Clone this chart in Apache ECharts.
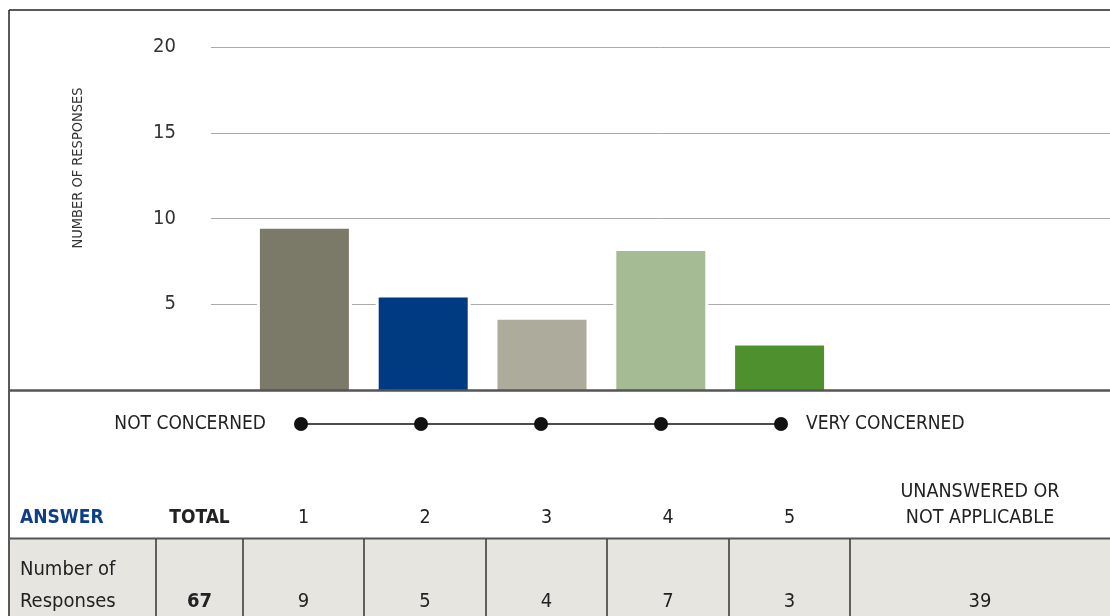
<!DOCTYPE html>
<html>
<head>
<meta charset="utf-8">
<script src="https://cdn.jsdelivr.net/npm/echarts@6/dist/echarts.min.js"></script>
<style>
  html, body { margin: 0; padding: 0; background: #fff; }
  #chart { width: 1110px; height: 616px; }
</style>
</head>
<body>
<div id="chart"></div>
<script>
// 数据
const categories = ['1', '2', '3', '4', '5'];
const barValues = [9.4, 5.4, 4.1, 8.1, 2.6];
const barColors = ['#7b7a68', '#003a80', '#adab9b', '#a4bb94', '#4e8f2e'];
const yMax = 20;
const yInterval = 5;
const yName = 'NUMBER OF RESPONSES';
const scaleLabels = ['NOT CONCERNED', 'VERY CONCERNED'];
const tableHeader = ['ANSWER', 'TOTAL', '1', '2', '3', '4', '5', 'UNANSWERED OR\nNOT APPLICABLE'];
const tableRowLabel = 'Number of\nResponses';
const tableValues = [67, 9, 5, 4, 7, 3, 39];

const FONT = '"Liberation Sans Narrow", "DejaVu Sans Condensed", Roboto, sans-serif';
// 表格列边界
const colEdges = [10, 156, 243, 364, 486, 607, 729, 850, 1110];

const chart = echarts.init(document.getElementById('chart'));

const graphics = [];
// 外框
graphics.push({ type: 'line', shape: { x1: 9, y1: 10, x2: 1110, y2: 10 }, style: { stroke: '#222', lineWidth: 1.5 }, z: 100 });
graphics.push({ type: 'line', shape: { x1: 9, y1: 10, x2: 9, y2: 616 }, style: { stroke: '#222', lineWidth: 1.5 }, z: 100 });
graphics.push({ type: 'line', shape: { x1: 9, y1: 390.5, x2: 1110, y2: 390.5 }, style: { stroke: '#555', lineWidth: 2.5 }, z: 100 });
// y轴名称
graphics.push({
  type: 'text', x: 78, y: 168, rotation: Math.PI / 2,
  style: { text: yName, font: '14.5px ' + FONT, fill: '#333', textAlign: 'center', textVerticalAlign: 'middle' }
});
// 表格背景
graphics.push({ type: 'rect', shape: { x: 10, y: 539, width: 1100, height: 77 }, style: { fill: '#e6e5e0' }, z: 1 });
graphics.push({ type: 'line', shape: { x1: 9, y1: 538.5, x2: 1110, y2: 538.5 }, style: { stroke: '#555', lineWidth: 2 }, z: 100 });
for (let i = 1; i < colEdges.length - 1; i++) {
  graphics.push({ type: 'line', shape: { x1: colEdges[i], y1: 539, x2: colEdges[i], y2: 616 }, style: { stroke: '#333', lineWidth: 1.5 }, z: 100 });
}
// 表头
tableHeader.forEach(function (t, i) {
  const first = i === 0;
  const cx = first ? 20 : (colEdges[i] + colEdges[i + 1]) / 2;
  graphics.push({
    type: 'text', x: cx, y: 531,
    style: {
      text: t, fill: first ? '#0e3f86' : '#222',
      font: (i < 2 ? 'bold 19px ' : '19.5px ') + FONT,
      textAlign: first ? 'left' : 'center', textVerticalAlign: 'bottom', lineHeight: 26
    }, z: 100
  });
});
// 表格内容
graphics.push({
  type: 'text', x: 20, y: 586,
  style: { text: tableRowLabel, fill: '#222', font: '20px ' + FONT, textAlign: 'left', textVerticalAlign: 'middle', lineHeight: 32 },
  z: 100
});
tableValues.forEach(function (v, i) {
  const cx = (colEdges[i + 1] + colEdges[i + 2]) / 2;
  graphics.push({
    type: 'text', x: cx, y: 602,
    style: { text: String(v), fill: '#222', font: (i === 0 ? 'bold 20px ' : '20px ') + FONT, textAlign: 'center', textVerticalAlign: 'middle' },
    z: 100
  });
});
// 刻度两端文字
graphics.push({ type: 'text', x: 266, y: 424, style: { text: scaleLabels[0], fill: '#222', font: '19px ' + FONT, textAlign: 'right', textVerticalAlign: 'middle' }, z: 100 });
graphics.push({ type: 'text', x: 806, y: 424, style: { text: scaleLabels[1], fill: '#222', font: '19px ' + FONT, textAlign: 'left', textVerticalAlign: 'middle' }, z: 100 });

const option = {
  animation: false,
  grid: [
    { left: 211, right: 0, top: 47, bottom: 226 },
    { left: 245, right: 271, top: 47, bottom: 226 },
    { left: 241, right: 269, top: 414, height: 20 },
    { left: 245, right: 271, top: 47, bottom: 226 }
  ],
  xAxis: [
    { gridIndex: 0, type: 'value', show: false },
    { gridIndex: 1, type: 'category', data: categories, show: false },
    { gridIndex: 2, type: 'category', data: categories, show: false },
    { gridIndex: 3, type: 'category', data: categories, show: false }
  ],
  yAxis: [
    {
      gridIndex: 0, type: 'value', min: 0, max: yMax, interval: yInterval,
      axisLine: { show: false }, axisTick: { show: false },
      axisLabel: { showMinLabel: false, margin: 35, fontSize: 20, fontFamily: FONT, color: '#333' },
      splitLine: { lineStyle: { color: '#aaa', width: 1 } }
    },
    { gridIndex: 1, type: 'value', min: 0, max: yMax, show: false, splitLine: { show: false } },
    { gridIndex: 2, type: 'value', min: 0, max: 1, show: false, splitLine: { show: false } },
    { gridIndex: 3, type: 'value', min: 0, max: yMax, show: false, splitLine: { show: false } }
  ],
  series: [
    {
      // 白色衬底，让网格线在柱子两侧断开
      type: 'bar', xAxisIndex: 3, yAxisIndex: 3,
      barWidth: 95,
      data: barValues,
      itemStyle: { color: '#fff' },
      silent: true,
      z: 3
    },
    {
      type: 'bar', xAxisIndex: 1, yAxisIndex: 1,
      barWidth: 89,
      data: barValues.map(function (v, i) {
        return { value: v, itemStyle: { color: barColors[i] } };
      }),
      z: 5
    },
    {
      type: 'line', xAxisIndex: 2, yAxisIndex: 2,
      data: categories.map(function () { return 0.5; }),
      symbol: 'circle', symbolSize: 14,
      lineStyle: { color: '#111', width: 1.5 },
      itemStyle: { color: '#111' }
    }
  ],
  graphic: graphics
};
chart.setOption(option);
</script>
</body>
</html>
